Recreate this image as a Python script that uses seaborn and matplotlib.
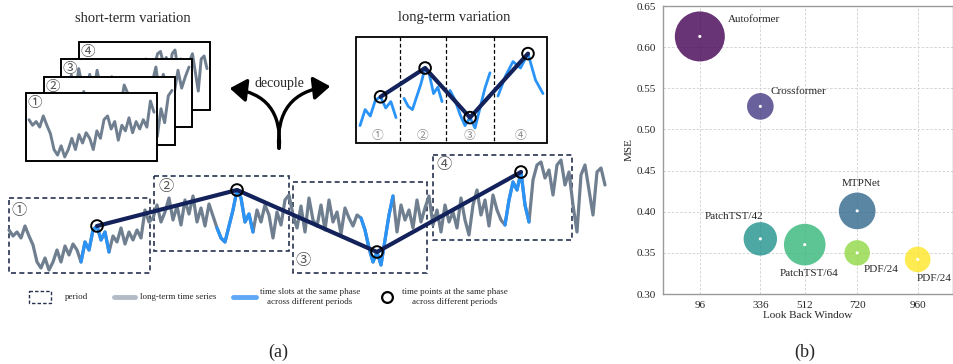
import numpy as np
import pandas as pd
import matplotlib
matplotlib.use("Agg")
import matplotlib.pyplot as plt
import seaborn as sns
from matplotlib.patches import Rectangle, FancyArrowPatch

# ---------------- data: panel (b) ----------------
model_keys = ["Autoformer", "Crossformer", "MTPNet", "PatchTST/42", "PatchTST/64", "PDF/24 a", "PDF/24 b"]
model_labels = ["Autoformer", "Crossformer", "MTPNet", "PatchTST/42", "PatchTST/64", "PDF/24", "PDF/24"]
lookback = [96, 336, 720, 336, 512, 720, 960]
mse = [0.613, 0.528, 0.401, 0.367, 0.360, 0.350, 0.342]
bubble = [1296, 368, 697, 578, 897, 335, 340]
x_ticks = [96, 336, 512, 720, 960]
y_ticks = [0.30, 0.35, 0.40, 0.45, 0.50, 0.55, 0.60, 0.65]

# ---------------- data: panel (a) (series levels per period) ----------------
seg1 = [50, 44, 48, 42, 54, 44, 35, 18, 12, 22, 10, 18, 30, 18, 34, 25, 36, 30, 18, 38, 30, 50, 54, 40, 48, 28, 44, 38, 52, 36, 48, 40, 50, 42, 70, 58]
seg2 = [62, 75, 58, 68, 82, 60, 74, 55, 80, 66, 84, 58, 72, 54, 76, 64, 52, 42, 38, 54, 70, 90, 82, 58, 66, 48, 70, 58, 75, 65, 42, 68, 55, 80, 85]
seg3 = [65, 52, 74, 48, 82, 60, 54, 75, 50, 80, 58, 68, 46, 72, 62, 54, 65, 62, 50, 32, 18, 28, 15, 40, 65, 84, 48, 75, 60, 70, 52, 80, 58, 72, 84]
seg4 = [55, 70, 48, 75, 58, 68, 52, 82, 60, 45, 75, 90, 65, 80, 54, 85, 70, 60, 55, 80, 98, 90, 108, 75, 58, 100, 115, 118, 102, 110, 85, 115, 120, 95, 108, 75, 48, 105, 115, 90, 65, 108, 112, 95]
blue_slots = [(18, 25), (16, 25), (17, 25), (18, 24)]
phase_idx = [22, 21, 21, 22]
period_marks = ["①", "②", "③", "④"]
legend_texts = ["period", "long-term time series",
                "time slots at the same phase\nacross different periods",
                "time points at the same phase\nacross different periods"]

# ---------------- styling ----------------
SERIF = "Liberation Serif"
CIRC = ["Noto Sans CJK JP", "DejaVu Sans"]
GRAY = "#6f7f8f"
BLUE = "#2a93f7"
NAVY = "#13225a"
BOXC = "#26324f"

sns.set_style("white")
plt.rcParams["font.family"] = [SERIF, "DejaVu Sans"]

fig = plt.figure(figsize=(9.54, 3.64), dpi=100)

# =============== panel (a): diagram in pixel coordinates ===============
ax = fig.add_axes([0, 0, 630 / 954, 1])
ax.set_xlim(0, 630)
ax.set_ylim(364, 0)
ax.axis("off")

segs = [seg1, seg2, seg3, seg4]
levels = np.concatenate([np.array(s, float) for s in segs])
xs = 9 + 4 * np.arange(len(levels))
ys = 280 - levels
starts = np.cumsum([0] + [len(s) for s in segs])[:-1]

# bottom long-term series
ax.plot(xs, ys, color=GRAY, lw=2.3, zorder=3, solid_joinstyle="round")
pts = []
for k in range(4):
    a, b = blue_slots[k]
    i0, i1 = starts[k] + a, starts[k] + b
    ax.plot(xs[i0:i1 + 1], ys[i0:i1 + 1], color=BLUE, lw=2.3, zorder=4)
    p = starts[k] + phase_idx[k]
    pts.append((xs[p], ys[p]))
pts = np.array(pts)
ax.plot(pts[:, 0], pts[:, 1], color=NAVY, lw=3, zorder=5, solid_capstyle="round")
ax.scatter(pts[:, 0], pts[:, 1], s=70, facecolor="none", edgecolor="black", lw=1.4, zorder=6)

# period boxes (dashed)
pboxes = [(9, 198, 141, 75), (154, 176, 135, 75), (293, 182, 134, 91), (433, 155, 139, 85)]
mark_pos = [(19, 211), (166, 187), (303, 261), (444, 165)]
for (x0, y0, w, h), (mx, my), m in zip(pboxes, mark_pos, period_marks):
    ax.add_patch(Rectangle((x0, y0), w, h, fill=False, edgecolor=BOXC, lw=1.2,
                           linestyle=(0, (3, 2)), zorder=2))
    ax.text(mx, my, m, family=CIRC, fontsize=11, color="#555555", ha="center", va="center", zorder=7)

# short-term stacked boxes
sboxes = [(26, 93), (44, 77), (61, 59), (79, 42)]
bw, bh = 131, 68
for k in [3, 2, 1, 0]:
    x0, y0 = sboxes[k]
    z = 10 + (3 - k) * 2
    r = Rectangle((x0, y0), bw, bh, facecolor="white", edgecolor="black", lw=1.2, zorder=z)
    ax.add_patch(r)
    lv = np.array(segs[k], float)
    lo, hi = lv.min(), lv.max()
    sx = x0 + 3 + np.linspace(0, bw - 6, len(lv))
    sy = y0 + bh - 4 - (lv - lo) / (hi - lo) * (bh - 12)
    ln, = ax.plot(sx, sy, color=GRAY, lw=2.1, zorder=z + 0.5)
    ln.set_clip_path(r)
    ax.add_patch(Rectangle((x0, y0), bw, bh, fill=False, edgecolor="black", lw=1.2, zorder=z + 0.7))
    ax.text(x0 + 9, y0 + 10, period_marks[k], family=CIRC, fontsize=10.5, color="#555555",
            ha="center", va="center", zorder=z + 0.8)

ax.text(133, 18, "short-term variation", fontsize=10.5, ha="center", va="center")
ax.text(454, 17, "long-term variation", fontsize=10.5, ha="center", va="center")

# long-term variation box
lx0, ly0, lw_, lh = 356, 37, 191, 106
lrect = Rectangle((lx0, ly0), lw_, lh, facecolor="white", edgecolor="black", lw=1.3, zorder=10)
ax.add_patch(lrect)
qedges = [356, 400, 446, 494, 547]
for qx in qedges[1:-1]:
    ax.plot([qx, qx], [ly0, ly0 + lh], color="black", lw=0.9, ls=(0, (3, 2)), zorder=11)
lpts = []
for k in range(4):
    a, b = blue_slots[k]
    lv = np.array(segs[k][a:b + 1], float)
    qx0, qx1 = qedges[k] + 4, qedges[k + 1] - 4
    sx = np.linspace(qx0, qx1, len(lv))
    sy = 140 - 0.8 * lv
    ln, = ax.plot(sx, sy, color=BLUE, lw=2.0, zorder=12)
    ln.set_clip_path(lrect)
    j = phase_idx[k] - a
    lpts.append((sx[j], sy[j]))
    ax.text((qedges[k] + qedges[k + 1]) / 2, 136, period_marks[k], family=CIRC, fontsize=8.5,
            color="#8a8a8a", ha="center", va="center", zorder=13)
lpts = np.array(lpts)
ax.plot(lpts[:, 0], lpts[:, 1], color=NAVY, lw=3, zorder=14, solid_capstyle="round")
ax.scatter(lpts[:, 0], lpts[:, 1], s=70, facecolor="none", edgecolor="black", lw=1.4, zorder=15)

# decouple arrows
for tip, rad in [((227, 88), 0.5), ((333, 86), -0.5)]:
    ax.add_patch(FancyArrowPatch((279, 151), tip, connectionstyle=f"arc3,rad={rad}",
                                 arrowstyle="-|>,head_length=5,head_width=3.5",
                                 mutation_scale=2.0, lw=2.4, color="black", zorder=20))
ax.text(279, 83, "decouple", fontsize=10, ha="center", va="center")

# legend row
ly = 297
ax.add_patch(Rectangle((29, ly - 6), 22, 12, fill=False, edgecolor=BOXC, lw=1.0, linestyle=(0, (2.5, 1.5))))
ax.text(77, ly, legend_texts[0], fontsize=6.5, ha="center", va="center")
ax.plot([114, 135], [ly, ly], color="#b3bcc6", lw=3.5)
ax.text(178, ly, legend_texts[1], fontsize=6.5, ha="center", va="center")
ax.plot([233, 256], [ly, ly], color="#5ea8f7", lw=3.5)
ax.text(310, ly, legend_texts[2], fontsize=6.5, ha="center", va="center", linespacing=1.4)
ax.scatter([387], [ly], s=60, facecolor="white", edgecolor="black", lw=1.6)
ax.text(455, ly, legend_texts[3], fontsize=6.5, ha="center", va="center", linespacing=1.4)

fig.text(278 / 954, 1 - 352 / 364, "(a)", fontsize=13, ha="center", va="center")

# =============== panel (b): bubble chart ===============
axb = fig.add_axes([663 / 954, 1 - 294 / 364, 290 / 954, 288 / 364])
df = pd.DataFrame({"key": model_keys, "label": model_labels, "lookback": lookback,
                   "mse": mse, "bubble": bubble})
pal = [plt.cm.viridis(v) for v in np.linspace(0, 1, len(model_keys))]
sns.scatterplot(data=df, x="lookback", y="mse", hue="key", hue_order=model_keys, palette=pal,
                size="bubble", sizes=(min(bubble), max(bubble)), size_norm=(min(bubble), max(bubble)),
                alpha=0.8, edgecolor="none", legend=False, ax=axb, zorder=3)
sns.scatterplot(data=df, x="lookback", y="mse", color="white", s=5, edgecolor="none",
                legend=False, ax=axb, zorder=4)

offsets = [(20, 12, "left"), (7, 11, "left"), (3, 20, "center"), (-19, 16, "center"),
           (3, -21, "center"), (17, -12, "center"), (12, -14, "center")]
for (_, row), (dx, dy, ha) in zip(df.iterrows(), offsets):
    axb.annotate(row["label"], (row["lookback"], row["mse"]), xytext=(dx, dy),
                 textcoords="offset points", ha=ha, va="center", fontsize=8, zorder=5)

axb.set_xlim(-50, 1100)
axb.set_ylim(0.30, 0.65)
axb.set_xticks(x_ticks)
axb.set_yticks(y_ticks)
axb.set_yticklabels([f"{v:.2f}" for v in y_ticks])
axb.tick_params(labelsize=8, length=3, color="#888888", pad=2)
axb.grid(True, ls=(0, (3, 2)), color="#cfcfcf", lw=0.6, zorder=0)
axb.set_axisbelow(True)
for s in axb.spines.values():
    s.set_color("#9a9a9a")
    s.set_linewidth(1.0)
axb.set_xlabel("Look Back Window", fontsize=8, labelpad=1)
axb.set_ylabel("MSE", fontsize=8, labelpad=2)

fig.text(805 / 954, 1 - 352 / 364, "(b)", fontsize=13, ha="center", va="center")

fig.savefig("out.png", dpi=100)
